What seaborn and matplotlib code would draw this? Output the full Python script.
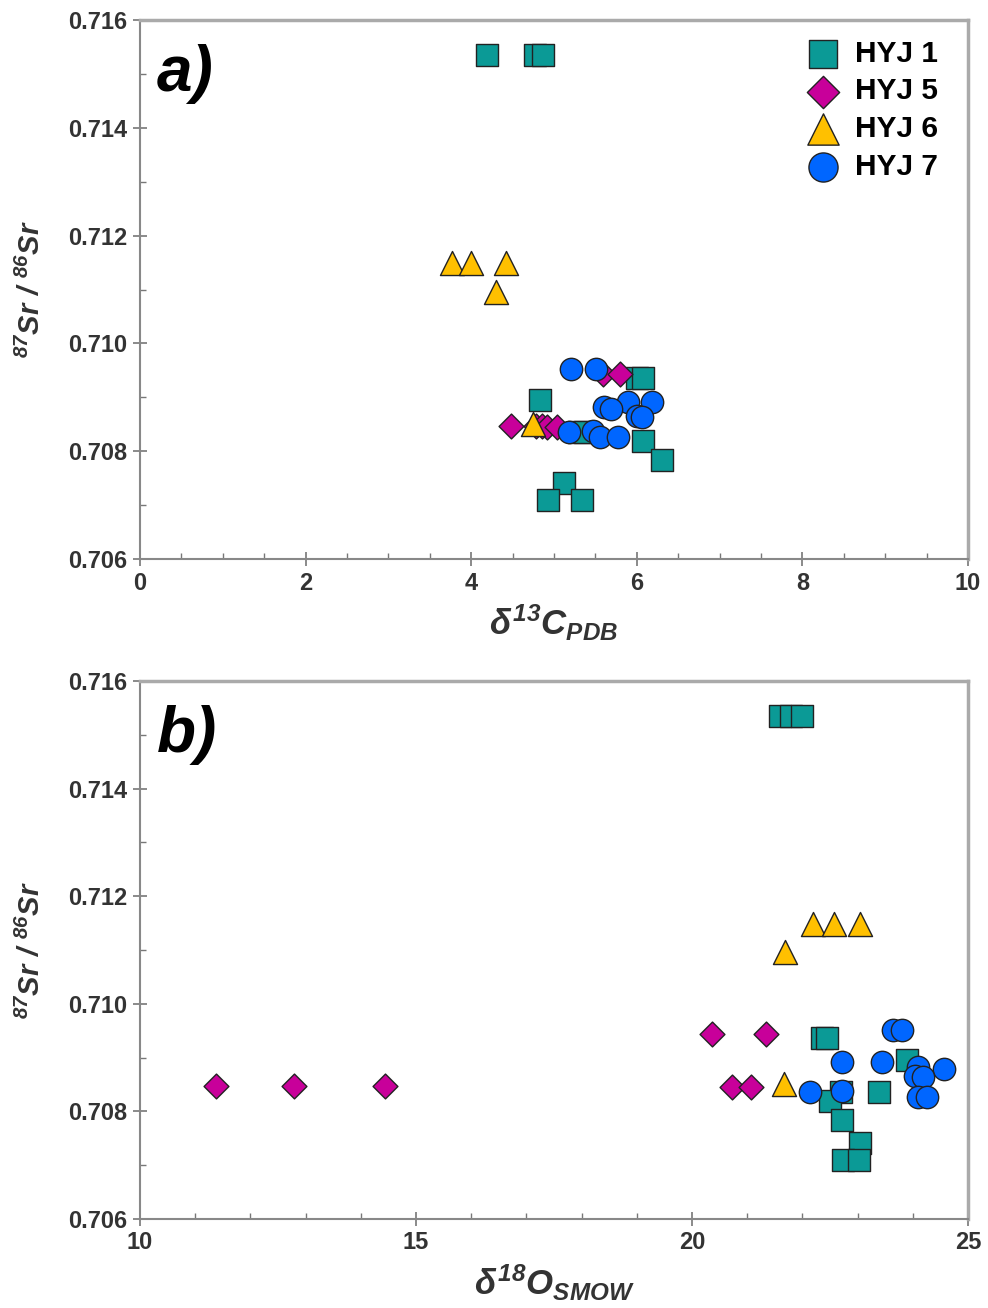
import numpy as np
import pandas as pd
import matplotlib
matplotlib.use("Agg")
import matplotlib.pyplot as plt
from matplotlib.ticker import MultipleLocator, FormatStrFormatter
import seaborn as sns

# ----------------------
# Data
# ----------------------
hyj1_d13c = [4.19, 4.77, 4.87, 6.00, 6.08, 4.83, 5.30, 5.38, 6.07, 6.30, 5.12, 4.93, 5.34]
hyj1_d18o = [21.60, 21.80, 22.00, 22.35, 22.45, 23.89, 23.39, 22.70, 22.50, 22.72, 23.04, 22.74, 23.03]
hyj1_sr = [0.71535, 0.71535, 0.71535, 0.70936, 0.70936, 0.70895, 0.70836, 0.70836,
           0.70819, 0.70784, 0.70741, 0.70709, 0.70709]

hyj5_d13c = [4.48, 4.78, 4.85, 4.92, 5.04, 5.59, 5.80]
hyj5_d18o = [11.38, 12.79, 14.44, 20.72, 21.07, 20.36, 21.34]
hyj5_sr = [0.70847, 0.70847, 0.70847, 0.70845, 0.70845, 0.70943, 0.70943]

hyj6_d13c = [3.77, 4.00, 4.42, 4.30, 4.75]
hyj6_d18o = [22.19, 22.57, 23.04, 21.68, 21.67]
hyj6_sr = [0.71149, 0.71149, 0.71149, 0.71096, 0.70850]

hyj7_d13c = [5.20, 5.51, 5.90, 6.18, 5.60, 5.69, 6.00, 6.06, 5.18, 5.47, 5.55, 5.77]
hyj7_d18o = [23.64, 23.80, 22.72, 23.44, 24.09, 24.57, 24.04, 24.18, 22.14, 22.72, 24.09, 24.26]
hyj7_sr = [0.70952, 0.70952, 0.70891, 0.70891, 0.70882, 0.70879, 0.70865, 0.70863,
           0.70836, 0.70838, 0.70826, 0.70826]

groups = ["HYJ 1", "HYJ 5", "HYJ 6", "HYJ 7"]
colors = {"HYJ 1": "#0b9a96", "HYJ 5": "#c8009a", "HYJ 6": "#ffc000", "HYJ 7": "#0066ff"}
markers = {"HYJ 1": "s", "HYJ 5": "D", "HYJ 6": "^", "HYJ 7": "o"}
sizes = {"HYJ 1": 240, "HYJ 5": 160, "HYJ 6": 300, "HYJ 7": 260}

frames = []
for name, c, o, s in [("HYJ 1", hyj1_d13c, hyj1_d18o, hyj1_sr),
                      ("HYJ 5", hyj5_d13c, hyj5_d18o, hyj5_sr),
                      ("HYJ 6", hyj6_d13c, hyj6_d18o, hyj6_sr),
                      ("HYJ 7", hyj7_d13c, hyj7_d18o, hyj7_sr)]:
    frames.append(pd.DataFrame({"group": name, "d13C": c, "d18O": o, "sr": s}))
df = pd.concat(frames, ignore_index=True)

# ----------------------
# Style
# ----------------------
sns.set_style("white")
plt.rcParams["font.family"] = ["Liberation Sans", "DejaVu Sans"]
plt.rcParams["font.weight"] = "bold"
plt.rcParams["mathtext.fontset"] = "custom"
plt.rcParams["mathtext.it"] = "Liberation Sans:style=italic:weight=bold"
plt.rcParams["mathtext.rm"] = "Liberation Sans:style=italic:weight=bold"
plt.rcParams["mathtext.bf"] = "Liberation Sans:style=italic:weight=bold"

fig = plt.figure(figsize=(9.88, 13.08), dpi=100)
ax_a = fig.add_axes([0.1417, 0.5726, 0.838, 0.412])
ax_b = fig.add_axes([0.1417, 0.0681, 0.838, 0.4113])


def style_axis(ax, xmin, xmax, xmajor, xminor):
    ax.set_xlim(xmin, xmax)
    ax.set_ylim(0.706, 0.716)
    ax.xaxis.set_major_locator(MultipleLocator(xmajor))
    ax.xaxis.set_minor_locator(MultipleLocator(xminor))
    ax.yaxis.set_major_locator(MultipleLocator(0.002))
    ax.yaxis.set_minor_locator(MultipleLocator(0.001))
    ax.yaxis.set_major_formatter(FormatStrFormatter("%.3f"))
    ax.xaxis.set_major_formatter(FormatStrFormatter("%d"))
    ax.tick_params(which="major", direction="inout", length=10, width=1.2,
                   color="#777777", labelsize=17, labelcolor="#333333", pad=4)
    ax.tick_params(which="minor", direction="in", length=4.5, width=1.0, color="#777777")
    ax.tick_params(axis="both", which="both", bottom=True, left=True, top=False, right=False)
    for side in ["left", "bottom"]:
        ax.spines[side].set_color("#888888")
        ax.spines[side].set_linewidth(1.5)
    for side in ["top", "right"]:
        ax.spines[side].set_color("#aaaaaa")
        ax.spines[side].set_linewidth(2.5)
    for lab in ax.get_xticklabels() + ax.get_yticklabels():
        lab.set_fontweight("bold")
    ax.set_ylabel(r"$^{87}Sr\ /\ ^{86}Sr$", fontsize=21, color="#333333", labelpad=16)


# ======================
# Panel a
# ======================
for g in groups:
    sub = df[df["group"] == g]
    sns.scatterplot(data=sub, x="d13C", y="sr", ax=ax_a, marker=markers[g], s=sizes[g],
                    color=colors[g], edgecolor="#222222", linewidth=1.0, label=g, zorder=3)
style_axis(ax_a, 0, 10, 2, 0.5)
ax_a.set_xlabel(r"$\delta^{13}C_{PDB}$", fontsize=25, color="#333333", labelpad=6)
ax_a.text(0.02, 0.955, "a)", transform=ax_a.transAxes, fontsize=46, fontweight="bold",
          fontstyle="italic", va="top", ha="left", color="black")
leg = ax_a.legend(loc="upper right", bbox_to_anchor=(0.988, 1.0), frameon=False,
                  fontsize=21.5, handletextpad=0.1, labelspacing=0.33, borderaxespad=0.25,
                  markerscale=1.3)
for t in leg.get_texts():
    t.set_fontweight("bold")
    t.set_color("black")

# ======================
# Panel b
# ======================
for g in groups:
    sub = df[df["group"] == g]
    sns.scatterplot(data=sub, x="d18O", y="sr", ax=ax_b, marker=markers[g], s=sizes[g],
                    color=colors[g], edgecolor="#222222", linewidth=1.0, legend=False, zorder=3)
style_axis(ax_b, 10, 25, 5, 1)
ax_b.set_xlabel(r"$\delta^{18}O_{SMOW}$", fontsize=25, color="#333333", labelpad=6)
ax_b.text(0.02, 0.955, "b)", transform=ax_b.transAxes, fontsize=46, fontweight="bold",
          fontstyle="italic", va="top", ha="left", color="black")

fig.savefig("out.png", dpi=100)
plt.close(fig)
